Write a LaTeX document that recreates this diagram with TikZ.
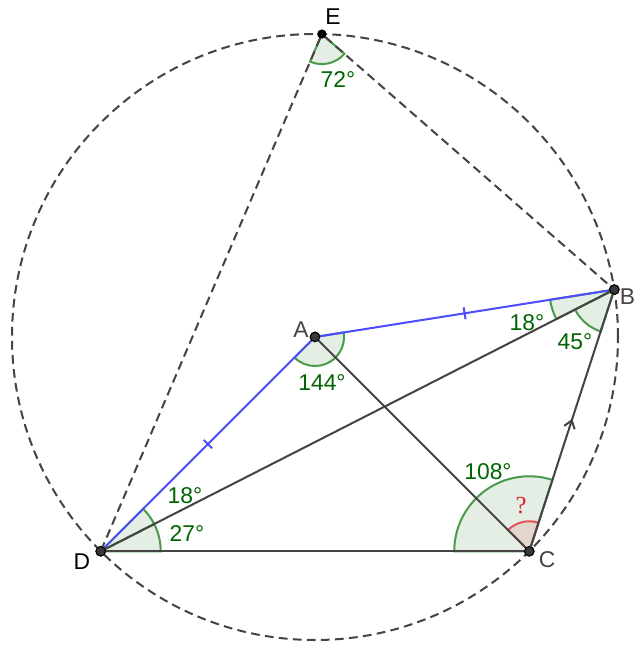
\documentclass[tikz,border=0pt]{standalone}
\usepackage{fontspec}
\setmainfont{Liberation Sans}
\newfontfamily\qfont{Liberation Serif}
\usetikzlibrary{decorations.markings}

\definecolor{segGray}{HTML}{444444}
\definecolor{segBlue}{HTML}{4D4DFF}
\definecolor{angText}{HTML}{006400}
\definecolor{angLine}{HTML}{4C9A4C}
\definecolor{angFill}{HTML}{E4EEE4}
\definecolor{qRed}{HTML}{E02020}
\definecolor{qLine}{HTML}{E05555}
\definecolor{qFill}{HTML}{E3D6CC}

\begin{document}
\begin{tikzpicture}[
  pt/.style={shape=circle, fill=black!78, draw=black, line width=0.6pt, inner sep=0pt, minimum size=0.19cm},
  seg/.style={draw=segGray, line width=1.15pt},
  blueseg/.style={draw=segBlue, line width=1.15pt},
  dashseg/.style={draw=segGray, line width=1.15pt, dash pattern=on 5pt off 3pt},
  tick/.style={postaction={decorate, decoration={markings, mark=at position 0.5 with {\draw[segBlue, line width=1.15pt, solid] (0,-0.12) -- (0,0.12);}}}},
  chevron/.style={postaction={decorate, decoration={markings, mark=at position 0.5 with {\draw[segGray, line width=1.15pt] (-0.15,0.11) -- (0,0) -- (-0.15,-0.11);}}}},
  sector/.style={fill=angFill, draw=angLine, line width=1.15pt},
  redsector/.style={fill=qFill, draw=qLine, line width=1.15pt},
  lbl/.style={font=\fontsize{13}{15}\selectfont},
  deg/.style={font=\fontsize{13}{15}\selectfont, text=angText}
]
\useasboundingbox (-6.3,-6.3) rectangle (6.48,6.74);

% points on the circle round A
\node[pt] (A) at (0,0) {};
\node[pt] (B) at (9:6.06) {};
\node[pt] (C) at (315:6.06) {};
\node[pt] (D) at (225:6.06) {};
\node[pt, minimum size=0.16cm, fill=black] (E) at (88.7:6.06) {};

% angle sectors
\filldraw[sector] (E.center) -- ++(246.85:0.6) arc[start angle=246.85, end angle=318.85, radius=0.6] -- cycle;
\filldraw[sector] (A.center) -- ++(225:0.58) arc[start angle=225, end angle=369, radius=0.58] -- cycle;
\filldraw[sector] (D.center) -- ++(0:1.2) arc[start angle=0, end angle=27, radius=1.2] -- cycle;
\filldraw[sector] (D.center) -- ++(27:1.2) arc[start angle=27, end angle=45, radius=1.2] -- cycle;
\filldraw[sector] (B.center) -- ++(189:1.3) arc[start angle=189, end angle=207, radius=1.3] -- cycle;
\filldraw[sector] (B.center) -- ++(207:0.88) arc[start angle=207, end angle=252, radius=0.88] -- cycle;
\filldraw[sector] (C.center) -- ++(72:1.5) arc[start angle=72, end angle=180, radius=1.5] -- cycle;
\filldraw[redsector] (C.center) -- ++(72:0.6) arc[start angle=72, end angle=135, radius=0.6] -- cycle;

% circle and segments
\draw[dashseg] (A.center) circle[radius=6.06];
\draw[dashseg] (E) -- (D);
\draw[dashseg] (E) -- (B);
\draw[blueseg, tick] (A) -- (D);
\draw[blueseg, tick] (A) -- (B);
\draw[seg] (D) -- (B);
\draw[seg] (D) -- (C);
\draw[seg] (A) -- (C);
\draw[seg, chevron] (C) -- (B);

% redraw points on top
\node[pt] at (A) {};
\node[pt] at (B) {};
\node[pt] at (C) {};
\node[pt] at (D) {};
\node[pt, minimum size=0.16cm, fill=black] at (E) {};

% labels
\node[lbl] (labE) at (0.36,6.4) {E};
\node[lbl, text=segGray] (labA) at (-0.28,0.14) {A};
\node[lbl, text=segGray] (labB) at (6.25,0.8) {B};
\node[lbl, text=segGray] (labC) at (4.64,-4.46) {C};
\node[lbl] (labD) at (-4.66,-4.5) {D};
\node[deg] (degE) at (0.46,5.14) {72°};
\node[deg] (degA) at (0.14,-0.92) {144°};
\node[deg] (degBa) at (4.24,0.28) {18°};
\node[deg] (degBb) at (5.2,-0.1) {45°};
\node[deg] (degDa) at (-2.6,-3.18) {18°};
\node[deg] (degDb) at (-2.56,-3.94) {27°};
\node[deg] (degC) at (3.46,-2.7) {108°};
\node[font=\qfont\fontsize{14}{16}\selectfont, text=qRed] (q) at (4.12,-3.38) {?};
\end{tikzpicture}
\end{document}
